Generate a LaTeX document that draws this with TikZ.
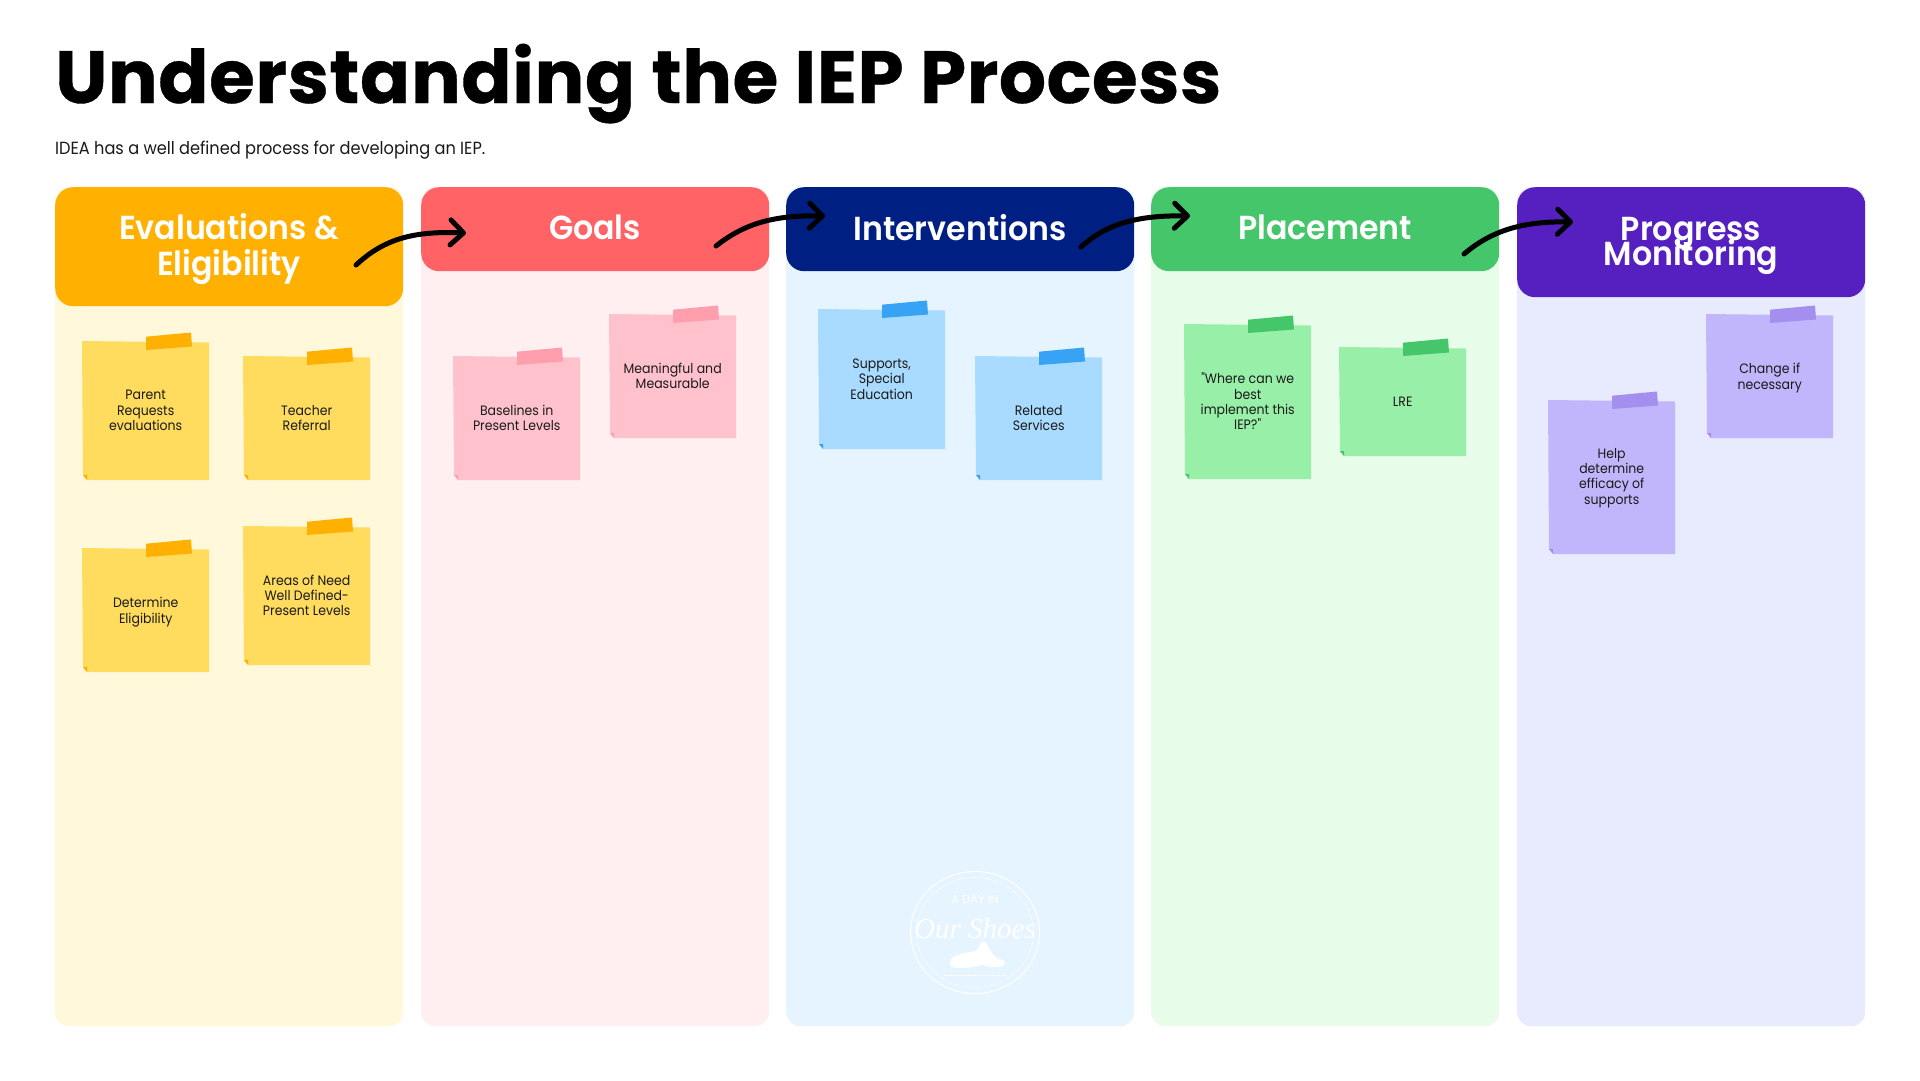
\documentclass[tikz,border=0pt]{standalone}
\usepackage{fontspec}
\usetikzlibrary{arrows.meta,calc}
\setmainfont{Poppins}
\newfontfamily\dm[FakeStretch=0.92]{Poppins}
\newfontfamily\dmh[FakeStretch=0.95]{Poppins SemiBold}
\newfontfamily\ttl[LetterSpace=0.78,FakeBold=0.5]{Poppins Bold}
\newfontfamily\wm{Liberation Serif}
\definecolor{ca}{HTML}{FFB000}\definecolor{cab}{HTML}{FFF8DB}\definecolor{can}{HTML}{FFDB5E}\definecolor{cat}{HTML}{FFB000}
\definecolor{cb}{HTML}{FF6366}\definecolor{cbb}{HTML}{FFEFF1}\definecolor{cbn}{HTML}{FFC2CC}\definecolor{cbt}{HTML}{FF9FAD}
\definecolor{cc}{HTML}{001F82}\definecolor{ccb}{HTML}{E6F4FF}\definecolor{ccn}{HTML}{A8DBFF}\definecolor{cct}{HTML}{38A3F5}
\definecolor{cd}{HTML}{45C66B}\definecolor{cdb}{HTML}{E8FDE9}\definecolor{cdn}{HTML}{98EFA8}\definecolor{cdt}{HTML}{45C66B}
\definecolor{ce}{HTML}{561FC0}\definecolor{ceb}{HTML}{E8EAFD}\definecolor{cen}{HTML}{C1B5FC}\definecolor{cet}{HTML}{A48FEF}
\definecolor{ink}{HTML}{1A1A1A}
\tikzset{
  colbody/.style={rectangle,rounded corners=14pt,inner sep=0pt,minimum width=348pt,minimum height=839pt,anchor=north west},
  colhead/.style={rectangle,rounded corners=18pt,inner sep=0pt,minimum width=348pt,anchor=north west},
  headtext/.style={inner sep=0pt,text=white,align=center,font=\dmh\fontsize{33.3}{36}\selectfont},
  notetext/.style={inner sep=0pt,align=center,text=ink,font=\dm\fontsize{13.6}{15.3}\selectfont},
  flow/.style={line width=5pt,line cap=round,-{Straight Barb[length=13pt,width=25pt,round]}},
}
% id, x0, y0, y1, note colour, tape colour, y offset of text, text
\newcommand{\sticky}[8]{%
  \fill[#5] (#2,#3) -- ({#2+127},{#3+1.5}) -- ({#2+127},#4) -- ({#2+5},#4) -- ({#2+1},{#4-5}) -- cycle;
  \fill[#6] ({#2+1},{#4-5}) -- ({#2+5},{#4-5}) -- ({#2+5},#4) -- cycle;
  \fill[#6] ({#2+64},{#3-4.3}) -- ({#2+109},{#3-8.5}) -- ({#2+110},{#3+5.5}) -- ({#2+64},{#3+9}) -- cycle;
  \node[notetext] (#1) at ({#2+63.7},{(#3+#4)/2+#7}) {#8};
}
\begin{document}
\begin{tikzpicture}[x=1pt,y=-1pt]
\useasboundingbox (0,0) rectangle (1920,1080);
\fill[white] (0,0) rectangle (1920,1080);

\node[anchor=base west,inner sep=0pt,font=\ttl\fontsize{74}{80}\selectfont] (title) at (55,103) {Understanding the IEP Process};
\node[anchor=base west,inner sep=0pt,font=\dm\fontsize{17.6}{20}\selectfont,text=ink] (sub) at (55,154) {IDEA has a well defined process for developing an IEP.};

\node[colbody,fill=cab] (b1) at (55,187) {};
\node[colbody,fill=cbb] (b2) at (421,187) {};
\node[colbody,fill=ccb] (b3) at (786,187) {};
\node[colbody,fill=cdb] (b4) at (1151,187) {};
\node[colbody,fill=ceb] (b5) at (1517,187) {};

\node[colhead,fill=ca,minimum height=119pt] (h1) at (55,187) {};
\node[colhead,fill=cb,minimum height=84pt] (h2) at (421,187) {};
\node[colhead,fill=cc,minimum height=84pt] (h3) at (786,187) {};
\node[colhead,fill=cd,minimum height=84pt] (h4) at (1151,187) {};
\node[colhead,fill=ce,minimum height=110pt] (h5) at (1517,187) {};
\node[headtext] (t1) at (229,249) {Evaluations \&\\Eligibility};
\node[headtext] (t2) at (595,227.5) {Goals};
\node[headtext] (t3) at (960,227.5) {Interventions};
\node[headtext] (t4) at (1325,227.5) {Placement};
\node[headtext] (t5) at (1691,246) {Progress\\[-10.5pt]Monitoring};

\sticky{n1}{82}{341}{480}{can}{cat}{0}{Parent\\Requests\\evaluations}
\sticky{n2}{243}{356}{480}{can}{cat}{0}{Teacher\\Referral}
\sticky{n3}{82}{548}{672}{can}{cat}{2}{Determine\\Eligibility}
\sticky{n4}{243}{526}{665}{can}{cat}{0}{Areas of Need\\Well Defined-\\Present Levels}
\sticky{n5}{453}{356}{480}{cbn}{cbt}{0}{Baselines in\\Present Levels}
\sticky{n6}{609}{314}{438}{cbn}{cbt}{0}{Meaningful and\\Measurable}
\sticky{n7}{818}{309}{449}{ccn}{cct}{0}{Supports,\\Special\\Education}
\sticky{n8}{975}{356}{480}{ccn}{cct}{0}{Related\\Services}
\sticky{n9}{1184}{324}{479}{cdn}{cdt}{0}{"Where can we\\best\\implement this\\IEP?"}
\sticky{n10}{1339}{347}{456}{cdn}{cdt}{0}{LRE}
\sticky{n11}{1548}{400}{554}{cen}{cet}{1}{Help\\determine\\efficacy of\\supports}
\sticky{n12}{1706}{314}{438}{cen}{cet}{2}{Change if\\necessary}

\coordinate (s1) at (356,265); \coordinate (e1) at (466,233);
\coordinate (s2) at (716,246); \coordinate (e2) at (825,216);
\coordinate (s3) at (1081,247); \coordinate (e3) at (1190,216);
\coordinate (s4) at (1464,254); \coordinate (e4) at (1573,222);
\draw[flow] (s1) .. controls (385,238) and (415,231) .. (e1);
\draw[flow] (s2) .. controls (745,223) and (775,215) .. (e2);
\draw[flow] (s3) .. controls (1105,225) and (1135,215) .. (e3);
\draw[flow] (s4) .. controls (1490,232) and (1520,221) .. (e4);

% watermark
\coordinate (wm) at (975,932.5);
\draw[white,line width=1pt] (wm) ellipse[x radius=64.5,y radius=61];
\draw[white,line width=0.5pt,dash pattern=on 6pt off 1.5pt] (wm) ellipse[x radius=58.5,y radius=55];
\node[white,inner sep=0pt,font=\fontsize{11.5}{12}\selectfont] (wm1) at (975,899) {A DAY IN};
\node[white,inner sep=0pt,font=\wm\itshape\fontsize{29}{30}\selectfont] (wm2) at (975,929) {Our Shoes};
\fill[white] plot[smooth cycle,tension=0.6] coordinates {(950,963) (953,957) (965,953) (977,950) (980,944) (985,942) (990,950) (997,958) (1004,961) (1003,966) (990,967) (983,965) (973,967) (960,968) (952,967)};
\draw[white,line width=0.6pt,dash pattern=on 1.5pt off 1.5pt] (944,975) -- (1006,975);
\end{tikzpicture}
\end{document}
